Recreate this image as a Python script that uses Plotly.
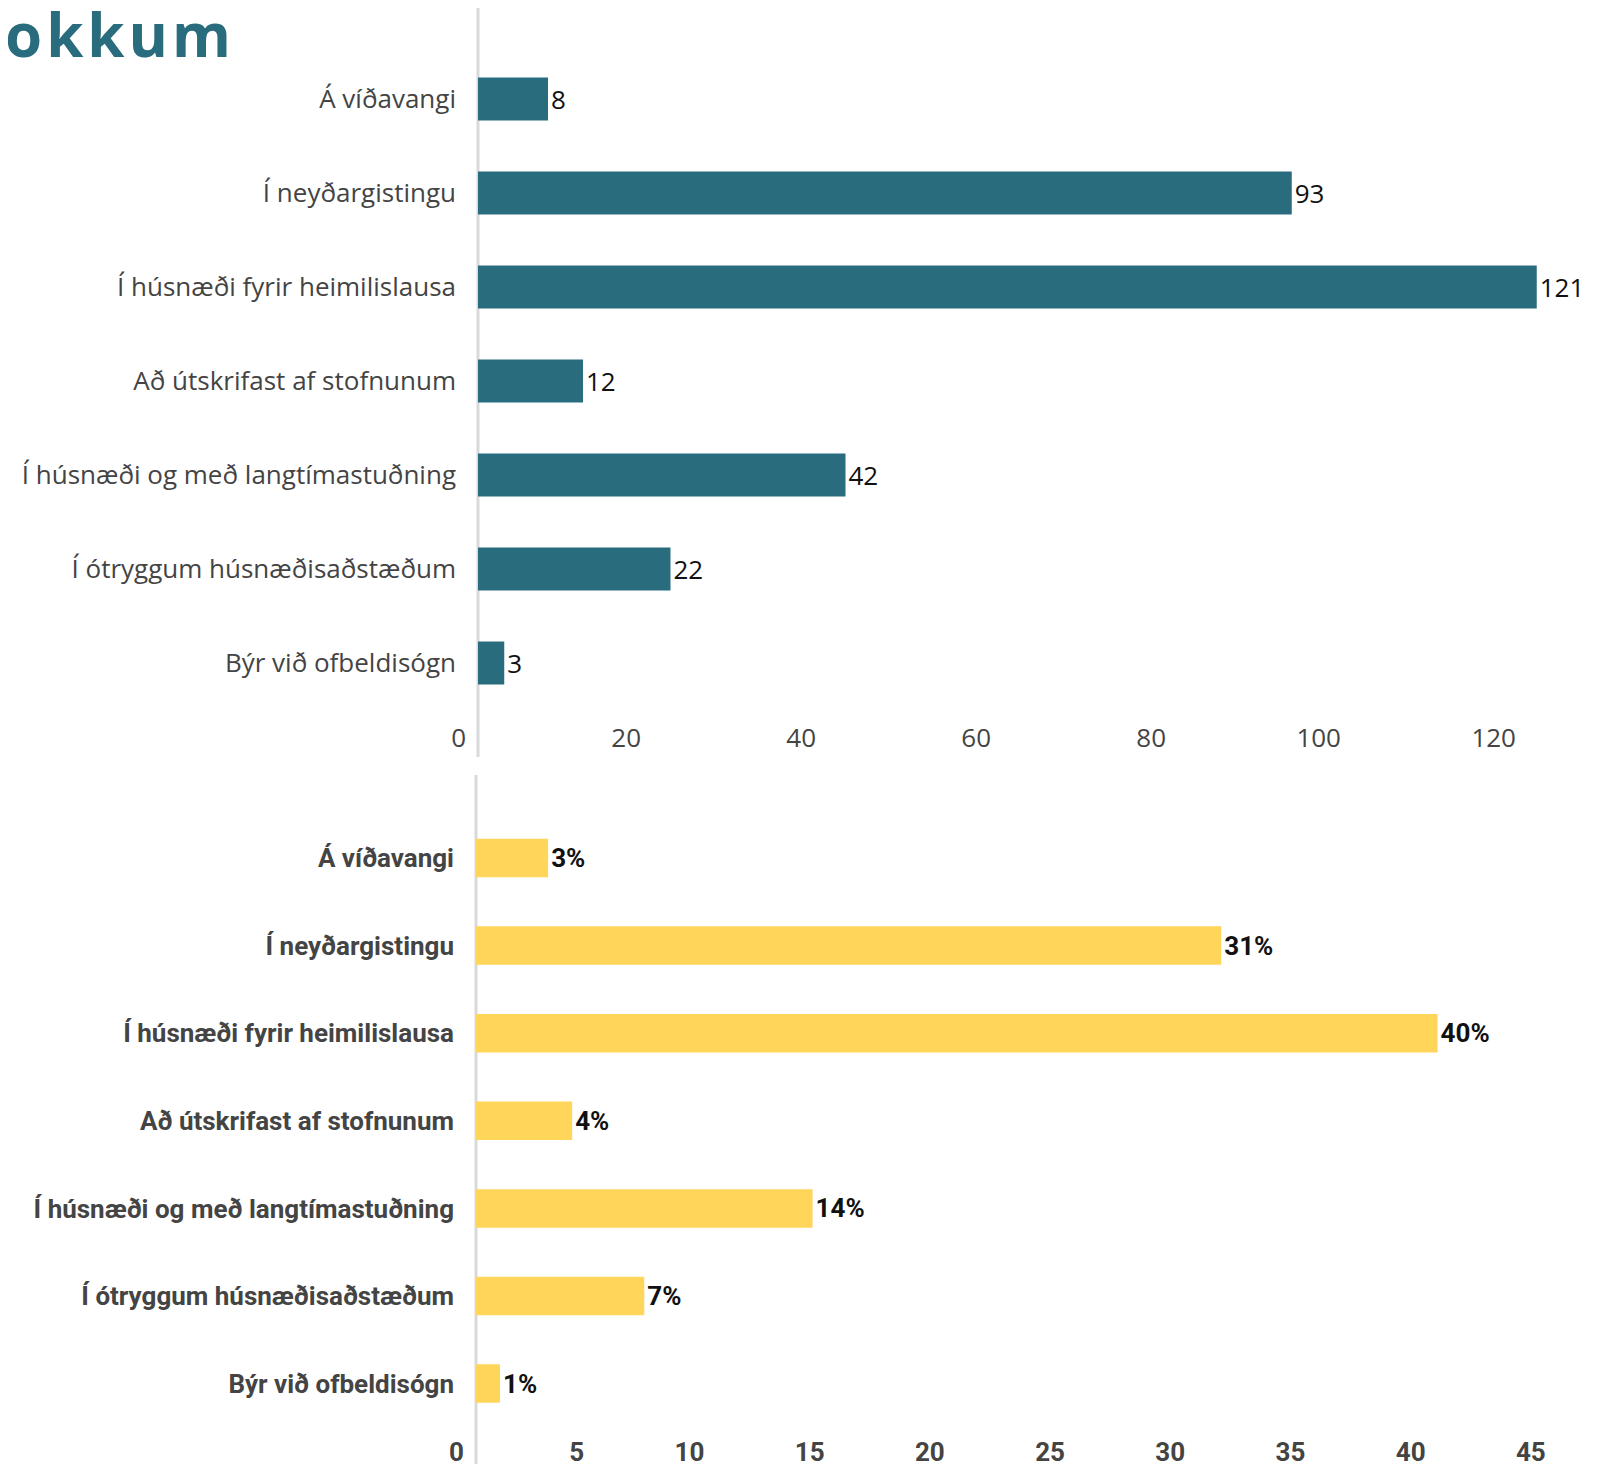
import plotly.graph_objects as go

categories = [
    "Á víðavangi",
    "Í neyðargistingu",
    "Í húsnæði fyrir heimilislausa",
    "Að útskrifast af stofnunum",
    "Í húsnæði og með langtímastuðning",
    "Í ótryggum húsnæðisaðstæðum",
    "Býr við ofbeldisógn",
]
counts = [8, 93, 121, 12, 42, 22, 3]
percents = [3, 31, 40, 4, 14, 7, 1]
top_ticks = [0, 20, 40, 60, 80, 100, 120]
bottom_ticks = [0, 5, 10, 15, 20, 25, 30, 35, 40, 45]
title_text = "okkum"

TEAL = "#296C7D"
YELLOW = "#FFD55A"
GRID = "#D9D9D9"
LABEL = "#444444"

OFF = 8  # page body margin
W, H = 1616 - OFF, 1464 - OFF

fig = go.Figure()

fig.add_trace(go.Bar(
    x=counts, y=categories, orientation="h",
    marker=dict(color=TEAL, line=dict(width=0)),
    width=0.46,
    text=[str(v) for v in counts], textposition="outside",
    textfont=dict(family="Open Sans", size=26, color="#111111"),
    cliponaxis=False,
    xaxis="x", yaxis="y", hoverinfo="skip",
))

fig.add_trace(go.Bar(
    x=percents, y=categories, orientation="h",
    marker=dict(color=YELLOW, line=dict(width=0)),
    width=0.44,
    text=[f"{v}%" for v in percents], textposition="outside",
    textfont=dict(family="Roboto", size=26, color="#111111", weight="bold"),
    cliponaxis=False,
    xaxis="x2", yaxis="y2", hoverinfo="skip",
))

# pixel geometry (page coordinates, converted to figure coordinates)
top_x0, bot_x0 = 478 - OFF, 476 - OFF
top_scale, bot_scale = 8.75, 24.04
top_line = (0, 757 - OFF)
bot_line = (775 - OFF, H)
top_plot = (0, 720 - OFF)
bot_plot = (bot_line[0], 1434 - OFF)
top_c0, top_step = 99 - OFF, 94
bot_c0, bot_step = 858 - OFF, 87.6

common_x = dict(showgrid=False, zeroline=False, showline=False, ticks="",
                ticklabelposition="outside left", automargin=False, fixedrange=True)
common_y = dict(type="category", categoryorder="array", categoryarray=categories,
                showline=False, showgrid=False, zeroline=False, ticks="",
                automargin=False, fixedrange=True)

fig.update_layout(
    width=W, height=H,
    margin=dict(l=0, r=0, t=0, b=0, autoexpand=False),
    paper_bgcolor="white", plot_bgcolor="white",
    showlegend=False,
    xaxis=dict(
        domain=[top_x0 / W, 1.0],
        range=[0, (W - top_x0) / top_scale],
        anchor="y",
        tickvals=top_ticks,
        ticktext=[str(t) for t in top_ticks],
        tickfont=dict(family="Open Sans", size=26, color=LABEL),
        ticklabelshift=-12,
        **common_x,
    ),
    yaxis=dict(
        domain=[1 - top_plot[1] / H, 1 - top_plot[0] / H],
        range=[(top_plot[1] - top_c0) / top_step, (top_plot[0] - top_c0) / top_step],
        anchor="x",
        tickfont=dict(family="Open Sans", size=26, color=LABEL),
        ticklabelstandoff=21,
        **common_y,
    ),
    xaxis2=dict(
        domain=[bot_x0 / W, 1.0],
        range=[0, (W - bot_x0) / bot_scale],
        anchor="y2",
        tickvals=bottom_ticks,
        ticktext=[str(t) for t in bottom_ticks],
        tickfont=dict(family="Roboto", size=26, color=LABEL, weight="bold"),
        ticklabelshift=-12,
        **common_x,
    ),
    yaxis2=dict(
        domain=[1 - bot_plot[1] / H, 1 - bot_plot[0] / H],
        range=[(bot_plot[1] - bot_c0) / bot_step, (bot_plot[0] - bot_c0) / bot_step],
        anchor="x2",
        tickfont=dict(family="Roboto", size=26, color=LABEL, weight="bold"),
        ticklabelstandoff=21,
        **common_y,
    ),
    shapes=[
        dict(type="line", xref="paper", yref="paper",
             x0=top_x0 / W, x1=top_x0 / W,
             y0=1 - top_line[1] / H, y1=1 - top_line[0] / H,
             line=dict(color=GRID, width=3), layer="below"),
        dict(type="line", xref="paper", yref="paper",
             x0=bot_x0 / W, x1=bot_x0 / W,
             y0=1 - bot_line[1] / H, y1=1 - bot_line[0] / H,
             line=dict(color=GRID, width=3), layer="below"),
    ],
    annotations=[dict(
        text=f'<span style="letter-spacing:4px">{title_text}</span>',
        xref="paper", yref="paper", x=0, y=1,
        xanchor="left", yanchor="top",
        xshift=-5, yshift=17,
        showarrow=False,
        font=dict(family="Open Sans", size=60, color=TEAL, weight="bold"),
    )],
)

fig.write_html("out.html")
